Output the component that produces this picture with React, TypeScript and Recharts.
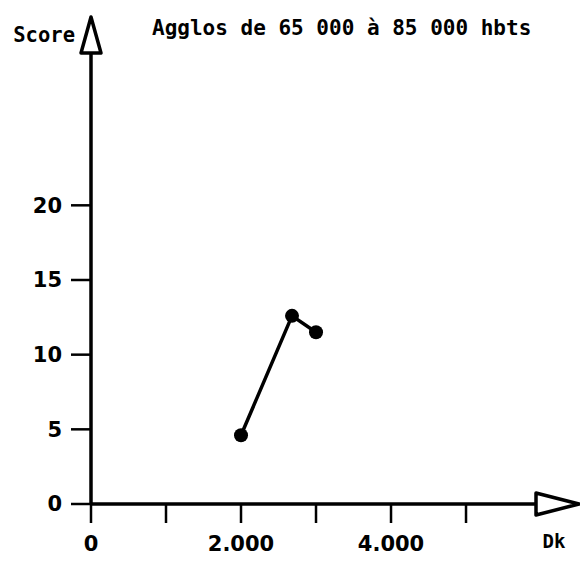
import React from 'react';
import { LineChart, Line, XAxis, YAxis, ReferenceDot } from 'recharts';

const dkValues = [2000, 2680, 3000];
const scoreValues = [4.6, 12.6, 11.5];
const xTicks = [0, 1000, 2000, 3000, 4000, 5000];
const xTickLabels = ['0', '', '2.000', '', '4.000', ''];
const yTicks = [0, 5, 10, 15, 20];
const xMax = 5933;
const yMax = 30.2;
const title = 'Agglos de 65 000 à 85 000 hbts';
const xAxisName = 'Dk';
const yAxisName = 'Score';

const data = dkValues.map((dk, i) => ({ dk, score: scoreValues[i] }));

const labelFont = '"DejaVu Sans", sans-serif';
const monoFont = '"DejaVu Sans Mono", monospace';

const XArrow = (props: any) => {
  const { cx, cy } = props;
  return (
    <g>
      <polygon
        points={`${cx},${cy - 11} ${cx + 43},${cy} ${cx},${cy + 11}`}
        fill="#fff"
        stroke="#000"
        strokeWidth={3.5}
        strokeLinejoin="round"
      />
      <text x={cx + 18} y={cy + 44} textAnchor="middle" fontFamily={monoFont} fontWeight="bold" fontSize={19} fill="#000">
        {xAxisName}
      </text>
    </g>
  );
};

const YArrow = (props: any) => {
  const { cx, cy } = props;
  return (
    <g>
      <polygon
        points={`${cx - 10},${cy} ${cx},${cy - 36} ${cx + 10},${cy}`}
        fill="#fff"
        stroke="#000"
        strokeWidth={3.5}
        strokeLinejoin="round"
      />
      <text x={cx - 16} y={cy - 11} textAnchor="end" fontFamily={monoFont} fontWeight="bold" fontSize={20.5} fill="#000">
        {yAxisName}
      </text>
      <text x={cx + 61} y={cy - 18} textAnchor="start" fontFamily={monoFont} fontWeight="bold" fontSize={21} fill="#000">
        {title}
      </text>
    </g>
  );
};

export default function App() {
  return (
    <LineChart
      width={588}
      height={554}
      data={data}
      margin={{ top: 45, right: 60, bottom: 0, left: 0 }}
    >
      <XAxis
        type="number"
        dataKey="dk"
        domain={[0, xMax]}
        ticks={xTicks}
        allowDataOverflow
        height={58}
        tickSize={19}
        tickMargin={13}
        axisLine={{ stroke: '#000', strokeWidth: 3.5 }}
        tickLine={{ stroke: '#000', strokeWidth: 2.5 }}
        tickFormatter={(v: number) => xTickLabels[xTicks.indexOf(v)] ?? ''}
        tick={{ fill: '#000', fontSize: 21, fontFamily: labelFont, fontWeight: 'bold' }}
      />
      <YAxis
        type="number"
        dataKey="score"
        domain={[0, yMax]}
        ticks={yTicks}
        allowDataOverflow
        width={83}
        tickSize={20}
        tickMargin={9}
        axisLine={{ stroke: '#000', strokeWidth: 3.5 }}
        tickLine={{ stroke: '#000', strokeWidth: 2.5 }}
        tick={{ fill: '#000', fontSize: 21, fontFamily: labelFont, fontWeight: 'bold' }}
      />
      <Line
        type="linear"
        dataKey="score"
        stroke="#000"
        strokeWidth={3.5}
        dot={{ r: 7, fill: '#000', stroke: '#000', strokeWidth: 0 }}
        isAnimationActive={false}
      />
      <ReferenceDot x={xMax} y={0} ifOverflow="visible" shape={XArrow} />
      <ReferenceDot x={0} y={yMax} ifOverflow="visible" shape={YArrow} />
    </LineChart>
  );
}
